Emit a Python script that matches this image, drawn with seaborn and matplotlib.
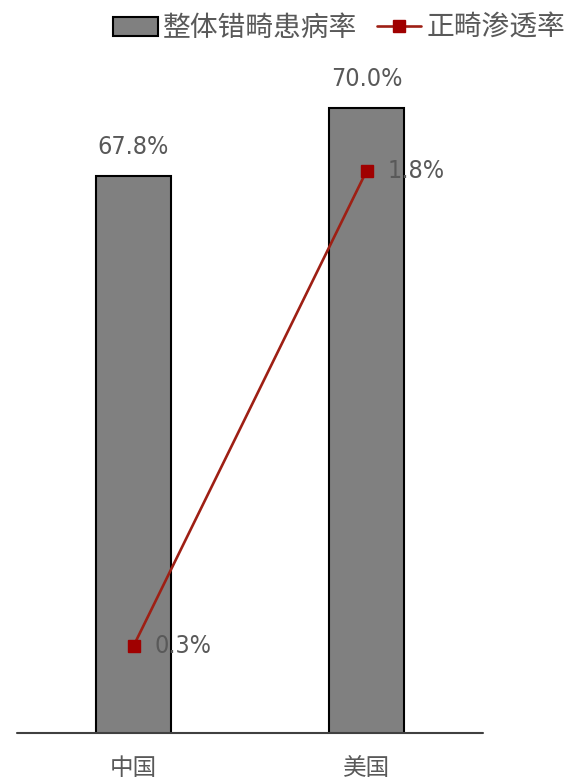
import matplotlib
matplotlib.use("Agg")
import matplotlib.pyplot as plt
import seaborn as sns
from matplotlib.patches import Patch
from matplotlib.lines import Line2D

sns.set_theme(style="white")
plt.rcParams["font.family"] = ["Noto Sans CJK SC", "DejaVu Sans"]

countries = ["中国", "美国"]
prevalence = [67.8, 70.0]          # 整体错畸患病率 (%)
penetration = [0.3, 1.8]           # 正畸渗透率 (%)
legend_labels = ["整体错畸患病率", "正畸渗透率"]

BAR_COLOR = "#808080"
LINE_COLOR = "#9E1F14"
MARKER_COLOR = "#A00000"
TEXT_COLOR = "#595959"
NUM_FONT = dict(family="DejaVu Sans", stretch="condensed", fontsize=18)

W, H = 569, 779
fig = plt.figure(figsize=(W / 100, H / 100), dpi=100)
ax = fig.add_axes([17 / W, 1 - 733 / H, (483 - 17) / W, (733 - 53) / H])

sns.barplot(x=countries, y=prevalence, ax=ax, color=BAR_COLOR, width=0.32,
            edgecolor="black", linewidth=1.5, saturation=1)
ax.set_ylim(49.78, 71.78)
ax.set_xlim(-0.5, 1.5)

for i, v in enumerate(prevalence):
    ax.text(i, v + 0.95, f"{v:.1f}%", ha="center", va="center",
            color=TEXT_COLOR, **NUM_FONT)

ax2 = ax.twinx()
ax2.plot(range(len(countries)), penetration, color=LINE_COLOR, linewidth=1.9,
         marker="s", markersize=8, markerfacecolor=MARKER_COLOR,
         markeredgecolor=MARKER_COLOR, zorder=5)
ax2.set_ylim(0.0253, 2.173)
for i, v in enumerate(penetration):
    ax2.text(i + 0.09, v, f"{v:.1f}%", ha="left", va="center",
             color=TEXT_COLOR, **NUM_FONT)

for a in (ax, ax2):
    a.set_yticks([])
    a.set_ylabel("")
    for side in ("top", "left", "right", "bottom"):
        a.spines[side].set_visible(False)
    a.grid(False)

ax.axhline(ax.get_ylim()[0], color="#404040", linewidth=1.5, zorder=6, clip_on=False)
ax.tick_params(axis="x", length=0, pad=17, labelsize=17, labelcolor=TEXT_COLOR)
ax.set_xlabel("")

handles = [
    Patch(facecolor=BAR_COLOR, edgecolor="black", linewidth=1.5),
    Line2D([0], [0], color=LINE_COLOR, linewidth=1.9, marker="s", markersize=8,
           markerfacecolor=MARKER_COLOR, markeredgecolor=MARKER_COLOR),
]
leg = fig.legend(handles, legend_labels, loc="center", ncol=2, frameon=False,
                 bbox_to_anchor=(339.5 / W, 1 - 28 / H), fontsize=20,
                 handlelength=1.6, handletextpad=0.2, columnspacing=0.7)
for t in leg.get_texts():
    t.set_color(TEXT_COLOR)

fig.savefig("out.png", dpi=100)
